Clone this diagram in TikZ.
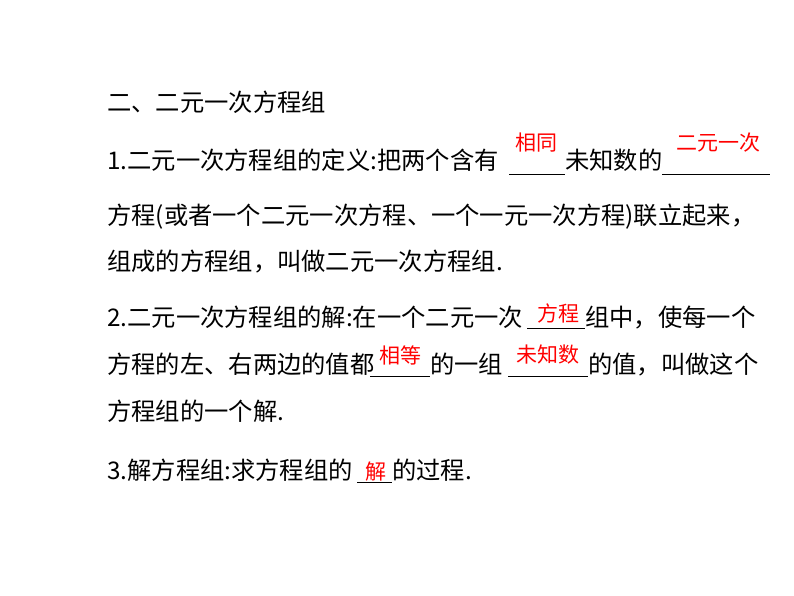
\documentclass[tikz,border=0pt]{standalone}
\usepackage{fontspec}
\newfontfamily\cjk{Noto Sans CJK SC}
\begin{document}
\begin{tikzpicture}[x=1pt,y=-1pt,
  t/.style={anchor=base west,inner sep=0,font=\cjk\fontsize{24.3}{24}\selectfont},
  ans/.style={inner sep=0,text=red,font=\cjk\fontsize{21}{21}\selectfont},
  ul/.style={line width=0.7pt}]
\useasboundingbox (0,0) rectangle (794,596);
\fill[white] (0,0) rectangle (794,596);
\node[t] (l0) at (107,112) {二、二元一次方程组};
\node[t] (l1a) at (107,170) {1.二元一次方程组的定义:把两个含有};
\node[t] (l1b) at (565,170) {未知数的};
\draw[ul] (509,174) -- (565,174);
\draw[ul] (662,174) -- (770,174);
\node[ans] (a1) at (536,143) {相同};
\node[ans] (a2) at (718,143) {二元一次};
\node[t] (l2) at (107,224) {方程(或者一个二元一次方程、一个一元一次方程)联立起来，};
\node[t] (l3) at (107,270) {组成的方程组，叫做二元一次方程组.};
\node[t] (l4a) at (107,326) {2.二元一次方程组的解:在一个二元一次};
\node[t] (l4b) at (585,326) {组中，使每一个};
\draw[ul] (527,328) -- (585,328);
\node[ans] (a3) at (558,313) {方程};
\node[t] (l5a) at (107,373) {方程的左、右两边的值都};
\node[t] (l5b) at (430,373) {的一组};
\node[t] (l5c) at (588,373) {的值，叫做这个};
\draw[ul] (370,376) -- (430,376);
\draw[ul] (508,376) -- (588,376);
\node[ans] (a4) at (400,355) {相等};
\node[ans] (a5) at (548,355) {未知数};
\node[t] (l6) at (107,420) {方程组的一个解.};
\node[t] (l7a) at (107,479) {3.解方程组:求方程组的};
\node[t] (l7b) at (392,479) {的过程.};
\draw[ul] (357,482) -- (392,482);
\node[ans] (a6) at (376,472) {解};
\end{tikzpicture}
\end{document}
